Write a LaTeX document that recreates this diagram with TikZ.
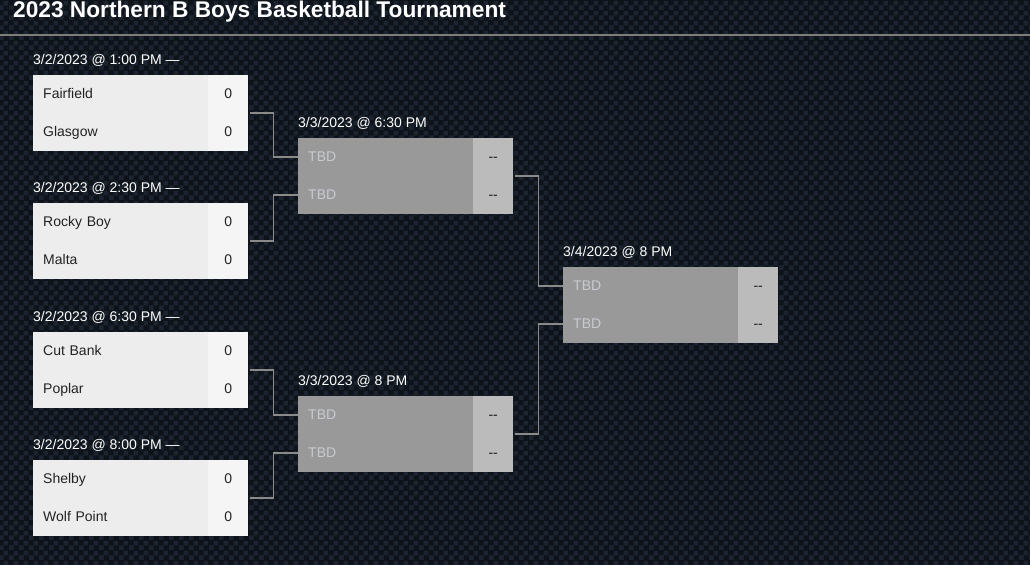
\documentclass[tikz,border=0pt]{standalone}
\usepackage{fontspec}
\setmainfont{Liberation Sans}
\usetikzlibrary{patterns}
\definecolor{bgdark}{HTML}{0E1319}
\definecolor{bglight}{HTML}{1B2430}
\definecolor{rulegray}{HTML}{7C7C7C}
\definecolor{connline}{HTML}{8A8A8A}
\definecolor{onename}{HTML}{EDEDED}
\definecolor{onescore}{HTML}{F5F5F5}
\definecolor{teamtext}{HTML}{222222}
\definecolor{twoname}{HTML}{999999}
\definecolor{twoscore}{HTML}{BBBBBB}
\definecolor{tbdtext}{HTML}{C6CBD1}
\definecolor{dashtext}{HTML}{1A1A1A}
\pgfdeclarepatternformonly{carbon}{\pgfqpoint{0pt}{0pt}}{\pgfqpoint{10pt}{10pt}}{\pgfqpoint{10pt}{10pt}}{%
  \pgfpathrectangle{\pgfqpoint{0pt}{0pt}}{\pgfqpoint{5pt}{5pt}}%
  \pgfpathrectangle{\pgfqpoint{5pt}{5pt}}{\pgfqpoint{5pt}{5pt}}%
  \pgfusepath{fill}}
\tikzset{
  boxshape/.style={minimum width=215pt, minimum height=76pt, inner sep=0pt, anchor=north west},
  datelbl/.style={anchor=west, inner sep=0pt, text=white, font=\fontsize{14}{16}\selectfont},
  cellfont/.style={font=\fontsize{14}{16}\selectfont, text height=12pt, text depth=3pt},
  onename/.style={cellfont, fill=onename, minimum width=175pt, minimum height=38pt, text width=155pt,
    inner xsep=10pt, inner ysep=0pt, align=left, text=teamtext, anchor=north west},
  onescore/.style={cellfont, fill=onescore, minimum width=40pt, minimum height=38pt, inner sep=0pt,
    text=teamtext, anchor=north east},
  twoname/.style={cellfont, fill=twoname, minimum width=175pt, minimum height=38pt, text width=155pt,
    inner xsep=10pt, inner ysep=0pt, align=left, text=tbdtext, anchor=north west},
  twoscore/.style={cellfont, fill=twoscore, minimum width=40pt, minimum height=38pt, inner sep=0pt,
    text=dashtext, anchor=north east},
  conn/.style={draw=connline, line width=1.6pt},
}
\newcommand{\brkmatch}[8]{%
  \node[boxshape] (#1) at (#2,#3) {};
  \node[datelbl] (#1d) at ([yshift=15pt]#1.north west) {#5};
  \node[#4name] (#1a) at (#1.north west) {#6};
  \node[#4name, anchor=south west] (#1b) at (#1.south west) {#7};
  \node[#4score] (#1as) at (#1.north east) {#8};
  \node[#4score, anchor=south east] (#1bs) at (#1.south east) {#8};
}
\begin{document}
\begin{tikzpicture}[x=1pt, y=-1pt]
\useasboundingbox (0,0) rectangle (1030,579);
\fill[bgdark] (0,0) rectangle (1030,565);
\fill[pattern=carbon, pattern color=bglight] (0,0) rectangle (1030,565);
\fill[white] (0,565) rectangle (1030,579);
\node[anchor=base west, inner sep=0pt, text=white, font=\bfseries\fontsize{22.7}{24}\selectfont] (title) at (13,17.5) {2023 Northern B Boys Basketball Tournament};
\draw[rulegray, line width=1.4pt] (0,35) -- (1030,35);
% round 1
\brkmatch{ma}{33}{75}{one}{3/2/2023 @ 1:00 PM —}{Fairfield}{Glasgow}{0}
\brkmatch{mb}{33}{203}{one}{3/2/2023 @ 2:30 PM —}{Rocky Boy}{Malta}{0}
\brkmatch{mc}{33}{332}{one}{3/2/2023 @ 6:30 PM —}{Cut Bank}{Poplar}{0}
\brkmatch{md}{33}{460}{one}{3/2/2023 @ 8:00 PM —}{Shelby}{Wolf Point}{0}
% round 2
\brkmatch{sa}{298}{138}{two}{3/3/2023 @ 6:30 PM}{TBD}{TBD}{-{}-}
\brkmatch{sb}{298}{396}{two}{3/3/2023 @ 8 PM}{TBD}{TBD}{-{}-}
% final
\brkmatch{fa}{563}{267}{two}{3/4/2023 @ 8 PM}{TBD}{TBD}{-{}-}
% connectors
\draw[conn] ([xshift=2pt]ma.east) -- ([xshift=25pt]ma.east) |- (saa.west);
\draw[conn] ([xshift=2pt]mb.east) -- ([xshift=25pt]mb.east) |- (sab.west);
\draw[conn] ([xshift=2pt]mc.east) -- ([xshift=25pt]mc.east) |- (sba.west);
\draw[conn] ([xshift=2pt]md.east) -- ([xshift=25pt]md.east) |- (sbb.west);
\draw[conn] ([xshift=2pt]sa.east) -- ([xshift=25pt]sa.east) |- (faa.west);
\draw[conn] ([xshift=2pt]sb.east) -- ([xshift=25pt]sb.east) |- (fab.west);
\end{tikzpicture}
\end{document}
